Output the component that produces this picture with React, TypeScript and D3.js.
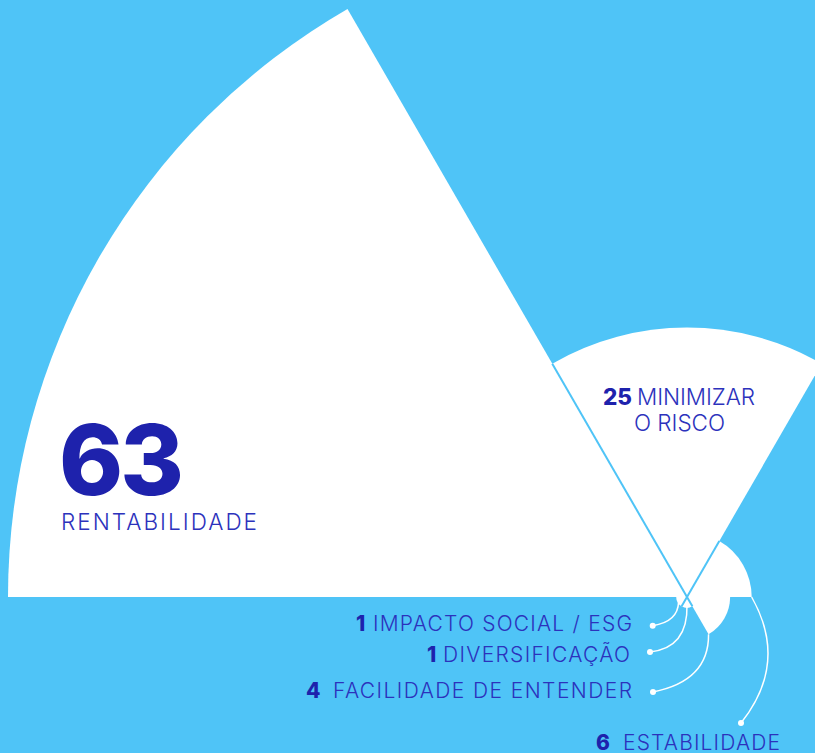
import React from "react";
import * as d3 from "d3";

// ---- data ----
const CATEGORIES = [
  "RENTABILIDADE",
  "MINIMIZAR O RISCO",
  "ESTABILIDADE",
  "FACILIDADE DE ENTENDER",
  "DIVERSIFICAÇÃO",
  "IMPACTO SOCIAL / ESG",
];
const VALUES = [63, 25, 6, 4, 1, 1];

// ---- layout / style ----
const W = 815;
const H = 753;
const BG = "#4FC4F7";
const NUM = "#1E22AC";
const LAB = "#2C32BC";
const CX = 687;
const CY = 597;
const RMAX = 679;
const FONT = "Inter, 'Noto Sans', sans-serif";

export default function App() {
  const r = d3.scaleLinear().domain([0, d3.max(VALUES) as number]).range([0, RMAX]);
  const pie = d3
    .pie<number>()
    .value(() => 1)
    .sort(null)
    .startAngle(-Math.PI / 2)
    .endAngle(1.5 * Math.PI);
  const arcs = pie(VALUES);
  const arcGen = d3
    .arc<d3.PieArcDatum<number>>()
    .innerRadius(0)
    .outerRadius((d) => r(d.data));

  const pt = (a: number, rr: number): [number, number] => [
    CX + rr * Math.sin(a),
    CY - rr * Math.cos(a),
  ];

  // separators inside upper half and lower half
  const sepIdx = [0, 1, 3, 4];

  // leader lines: anchor on slice, control point, dot near label
  const anchors: Record<number, [number, number]> = {
    2: pt(arcs[2].endAngle, r(VALUES[2])),
    3: pt(arcs[3].endAngle, r(VALUES[3])),
    4: pt((arcs[4].startAngle + arcs[4].endAngle) / 2, r(VALUES[4]) * 0.75),
    5: pt((arcs[5].startAngle + arcs[5].endAngle) / 2, r(VALUES[5]) * 0.9),
  };
  const leaders = [
    { i: 5, c: [678, 622], dot: [652.7, 625.7] },
    { i: 4, c: [688, 648], dot: [650, 652] },
    { i: 3, c: [709, 681], dot: [653, 692] },
    { i: 2, c: [789, 663], dot: [741, 723] },
  ];

  const bottomLabels = [
    { i: 5, numX: 356, x: 373, w: 259, y: 630.7 },
    { i: 4, numX: 427, x: 443, w: 187, y: 661.7 },
    { i: 3, numX: 306, x: 333, w: 299, y: 698 },
    { i: 2, numX: 596, x: 623, w: 157, y: 750 },
  ];

  return (
    <div style={{ position: "fixed", left: 0, top: 0, width: W, height: H, background: BG }}>
      <svg width={W} height={H} style={{ display: "block" }} fontFamily={FONT}>
        <rect width={W} height={H} fill={BG} />
        <g transform={`translate(${CX},${CY})`}>
          {arcs.map((a, k) => (
            <path key={k} d={arcGen(a) || ""} fill="#FFFFFF" />
          ))}
        </g>
        {sepIdx.map((k) => {
          const len = Math.min(r(VALUES[k]), r(VALUES[k + 1]));
          const [x2, y2] = pt(arcs[k].endAngle, len);
          return (
            <line key={k} x1={CX} y1={CY} x2={x2} y2={y2} stroke={BG} strokeWidth={2} />
          );
        })}
        {leaders.map((l) => {
          const [sx, sy] = anchors[l.i];
          return (
            <g key={l.i}>
              <path
                d={`M${sx},${sy} Q${l.c[0]},${l.c[1]} ${l.dot[0]},${l.dot[1]}`}
                fill="none"
                stroke="#FFFFFF"
                strokeWidth={1.5}
              />
              <circle cx={l.dot[0]} cy={l.dot[1]} r={3} fill="#FFFFFF" />
            </g>
          );
        })}

        {/* Rentabilidade */}
        <text x={59} y={495} fontSize={97} fontWeight={800} fill={NUM} textLength={125} lengthAdjust="spacing">
          {VALUES[0]}
        </text>
        <text x={61} y={530} fontSize={22.5} fontWeight={300} fill={LAB} textLength={196} lengthAdjust="spacing">
          {CATEGORIES[0]}
        </text>

        {/* Minimizar o risco */}
        <text x={603} y={405} fontSize={22.5} fontWeight={800} fill={NUM}>
          {VALUES[1]}
        </text>
        <text x={637} y={405} fontSize={22.5} fontWeight={300} fill={LAB} textLength={118} lengthAdjust="spacing">
          {CATEGORIES[1].split(" ")[0]}
        </text>
        <text x={634} y={431} fontSize={22.5} fontWeight={300} fill={LAB} textLength={91} lengthAdjust="spacing">
          {CATEGORIES[1].split(" ").slice(1).join(" ")}
        </text>

        {bottomLabels.map((b) => (
          <g key={b.i}>
            <text x={b.numX} y={b.y} fontSize={21} fontWeight={800} fill={NUM}>
              {VALUES[b.i]}
            </text>
            <text x={b.x} y={b.y} fontSize={21} fontWeight={300} fill={LAB} textLength={b.w} lengthAdjust="spacing">
              {CATEGORIES[b.i]}
            </text>
          </g>
        ))}
      </svg>
    </div>
  );
}
